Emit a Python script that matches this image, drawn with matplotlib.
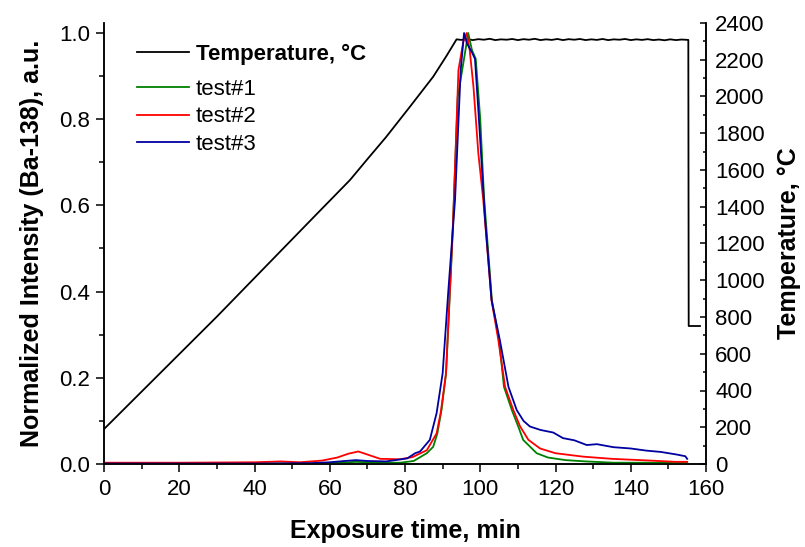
import numpy as np
import matplotlib
matplotlib.use("Agg")
import matplotlib.pyplot as plt
from matplotlib.ticker import MultipleLocator, FormatStrFormatter

plt.rcParams["font.family"] = ["Liberation Sans", "DejaVu Sans"]

# ── data ──
# furnace temperature (right axis): ramp, noisy plateau, then cut-off
temp_t = [0, 30, 55, 65.4, 69.8, 75, 81.3, 87.5, 91, 93.7,
          95, 96.5, 98, 99.5, 101, 102.5, 104, 105.5, 107, 108.5, 110, 111.5,
          113, 114.5, 116, 117.5, 119, 120.5, 122, 123.5, 125, 126.5, 128, 129.5,
          131, 132.5, 134, 135.5, 137, 138.5, 140, 141.5, 143, 144.5, 146, 147.5,
          149, 150.5, 152, 153.5, 155.3, 155.4, 158.4]
temp_c = [190, 802, 1328, 1546, 1654, 1780, 1944, 2108, 2220, 2311,
          2308, 2313, 2307, 2312, 2309, 2314, 2307, 2311, 2309, 2313, 2307, 2312,
          2309, 2314, 2307, 2311, 2308, 2313, 2307, 2312, 2309, 2313, 2307, 2311,
          2308, 2313, 2307, 2311, 2309, 2313, 2307, 2311, 2308, 2312, 2307, 2310,
          2306, 2311, 2307, 2310, 2308, 751, 751]

t1 = [0, 20, 40, 55, 60, 65, 67, 70, 75, 78.7, 82.3, 85.8, 87.5, 88.6, 89.7,
      90.9, 92.5, 94, 95.5, 96.8, 97.8, 98.8, 100, 101.0, 103.1, 105, 106.3,
      108.4, 110.1, 111.4, 115, 118, 122.7, 128, 135.4, 145, 155]
v1 = [0.0, 0.0, 0.001, 0.001, 0.002, 0.004, 0.005, 0.004, 0.003, 0.003, 0.007,
      0.025, 0.04, 0.071, 0.125, 0.21, 0.50, 0.85, 0.93, 1.0, 0.96, 0.94, 0.80,
      0.62, 0.38, 0.288, 0.179, 0.125, 0.087, 0.056, 0.025, 0.015, 0.009, 0.006,
      0.003, 0.003, 0.002]

t2 = [0, 20, 40, 47, 52, 58, 62, 65, 67.6, 70, 73.4, 78.7, 82, 85.8, 88.4, 89.5,
      90.9, 92.8, 94.2, 95.5, 96.4, 97.2, 98.2, 99.5, 100.8, 103, 104.8, 106.6,
      108.8, 110.6, 112.8, 115.9, 120, 127.4, 135, 145, 152, 155]
v2 = [0.003, 0.003, 0.004, 0.006, 0.004, 0.008, 0.015, 0.024, 0.029, 0.022, 0.012,
      0.011, 0.016, 0.032, 0.071, 0.12, 0.21, 0.566, 0.914, 0.98, 1.0, 0.96, 0.875,
      0.72, 0.613, 0.38, 0.288, 0.179, 0.125, 0.087, 0.056, 0.036, 0.025, 0.017,
      0.012, 0.008, 0.005, 0.005]

t3 = [0, 20, 40, 55, 60, 64, 67, 70, 75, 80.6, 82.7, 84, 86.6, 88.4, 90, 91.5,
      93.3, 94.8, 95.7, 96.5, 97.8, 98.6, 99.5, 101.3, 103, 105.2, 107.5, 109.7,
      111.5, 113.2, 116, 119.4, 122, 125, 128.3, 131, 135.4, 140, 144.2, 148,
      152.2, 154.5, 155]
v3 = [0.001, 0.001, 0.001, 0.002, 0.004, 0.007, 0.009, 0.007, 0.006, 0.013, 0.025,
      0.029, 0.056, 0.118, 0.21, 0.40, 0.613, 0.914, 1.0, 0.975, 0.955, 0.94, 0.82,
      0.566, 0.38, 0.288, 0.179, 0.125, 0.10, 0.087, 0.079, 0.073, 0.06, 0.055,
      0.044, 0.046, 0.039, 0.036, 0.031, 0.028, 0.022, 0.018, 0.012]

TESTS = [
    (t1, v1, "#008000", "test#1"),
    (t2, v2, "#FF0000", "test#2"),
    (t3, v3, "#0000A0", "test#3"),
]

FS = 16      # ticks + legend
FS_LAB = 18  # axis titles
LW = 1.3

fig = plt.figure(figsize=(8.05, 5.47), dpi=100)
ax1 = fig.add_axes([104 / 805, 1 - 464 / 547, 602 / 805, 441 / 547])
ax2 = ax1.twinx()
ax1.set_zorder(ax2.get_zorder() + 1)
ax1.patch.set_visible(False)

temp_line, = ax2.plot(temp_t, temp_c, color="black", lw=LW)
test_lines = []
for t, v, c, lab in TESTS:
    ln, = ax1.plot(t, v, color=c, lw=LW, label=lab)
    test_lines.append(ln)

ax1.set_xlim(0, 160)
ax1.set_ylim(0, 1.0 + 10 / 431)
ax2.set_ylim(0, 2400)

ax1.xaxis.set_major_locator(MultipleLocator(20))
ax1.xaxis.set_minor_locator(MultipleLocator(10))
ax1.yaxis.set_major_locator(MultipleLocator(0.2))
ax1.yaxis.set_minor_locator(MultipleLocator(0.1))
ax2.yaxis.set_major_locator(MultipleLocator(200))
ax2.yaxis.set_minor_locator(MultipleLocator(100))
ax1.yaxis.set_major_formatter(FormatStrFormatter("%.1f"))

for ax in (ax1, ax2):
    ax.spines["top"].set_visible(False)
    for sp in ax.spines.values():
        sp.set_linewidth(1.1)

ax1.tick_params(axis="x", which="major", direction="out", length=6, width=1.1,
                labelsize=FS, pad=5)
ax1.tick_params(axis="y", which="major", direction="out", length=6, width=1.1,
                labelsize=FS, pad=4)
ax1.tick_params(axis="both", which="minor", direction="out", length=3.5, width=1.1)
ax1.tick_params(axis="y", right=False)
ax2.tick_params(axis="y", which="major", direction="in", length=4.5, width=1.1,
                labelsize=FS, pad=6.5)
ax2.tick_params(axis="y", which="minor", direction="in", length=2.5, width=1.1)

ax1.set_xlabel("Exposure time, min", fontsize=FS_LAB, fontweight="bold")
ax1.set_ylabel("Normalized Intensity (Ba-138), a.u.", fontsize=FS_LAB,
               fontweight="bold")
ax2.set_ylabel("Temperature, °C", fontsize=FS_LAB, fontweight="bold")
ax1.xaxis.set_label_coords(0.5, -0.125)
ax1.yaxis.set_label_coords(-0.10, 0.5)
ax2.yaxis.set_label_coords(1.118, 0.5)

fig.legend([temp_line], ["Temperature, °C"], loc="upper left",
           bbox_to_anchor=(137 / 805, 1 - 44 / 547), frameon=False,
           prop=dict(size=FS, weight="bold"), handlelength=2.35,
           handletextpad=0.3, borderpad=0, borderaxespad=0)
fig.legend(test_lines, [ln.get_label() for ln in test_lines], loc="upper left",
           bbox_to_anchor=(137 / 805, 1 - 79 / 547), frameon=False,
           prop=dict(size=FS), handlelength=2.35, handletextpad=0.3,
           labelspacing=0.29, borderpad=0, borderaxespad=0)

fig.savefig("out.png", dpi=100)
